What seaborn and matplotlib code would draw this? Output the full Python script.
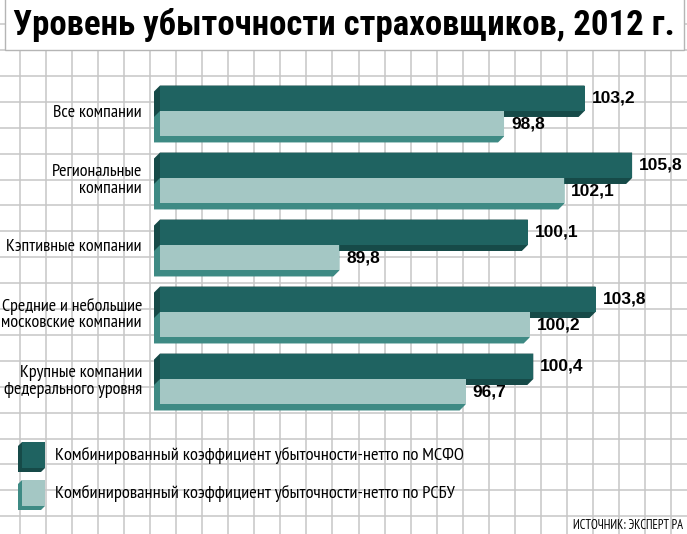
import numpy as np
import pandas as pd
import matplotlib.pyplot as plt
import seaborn as sns
from matplotlib.patches import Polygon, Rectangle

# данные
categories = ["Все компании", "Региональные\nкомпании", "Кэптивные компании",
              "Средние и небольшие\nмосковские компании", "Крупные компании\nфедерального уровня"]
msfo = [103.2, 105.8, 100.1, 103.8, 100.4]
rsbu = [98.8, 102.1, 89.8, 100.2, 96.7]
series = ["Комбинированный коэффициент убыточности-нетто по МСФО",
          "Комбинированный коэффициент убыточности-нетто по РСБУ"]
title = "Уровень убыточности страховщиков, 2012 г."
source = "ИСТОЧНИК: ЭКСПЕРТ РА"

face_colors = ["#1f6361", "#a4c7c4"]
side_colors = ["#164a48", "#3e8a84"]
narrow = ["PT Sans Narrow", "DejaVu Sans"]
heavy = ["Roboto Condensed", "DejaVu Sans"]

df = pd.DataFrame({
    "category": categories * 2,
    "value": msfo + rsbu,
    "series": [series[0]] * len(categories) + [series[1]] * len(categories),
})

W, H = 687, 534
fig = plt.figure(figsize=(W / 100, H / 100), dpi=100)

# фон: сетка в пикселях
bg = fig.add_axes([0, 0, 1, 1], zorder=0)
bg.set_xlim(0, W)
bg.set_ylim(H, 0)
bg.axis("off")
for x in 20 + 26.04 * np.arange(-1, 27):
    bg.axvline(x, color="#c6c6c6", lw=1.1)
for y in 50 + 25.9 * np.arange(-2, 20):
    bg.axhline(y, color="#c6c6c6", lw=1.1)
bg.add_patch(Rectangle((5, -3), 679, 53, facecolor="white", edgecolor="#b5b5b5", lw=1.0, zorder=3))
bg.text(344, 25, title, ha="center", va="center", fontsize=25, fontweight="black",
        family=heavy, zorder=4)

# основной график
ax = fig.add_axes([160 / W, 1 - 440 / H, (W - 160) / W, 390 / H], zorder=1)
ax.set_facecolor("none")
sns.barplot(data=df, y="category", x="value", hue="series", orient="h",
            palette=face_colors, width=0.76, saturation=1, legend=False, ax=ax)
ax.set_xlim(80, 108.8)
ax.set_ylim(4.91, -0.91)
for s in ax.spines.values():
    s.set_visible(False)
ax.set_xlabel("")
ax.set_ylabel("")
ax.set_xticks([])
ax.tick_params(axis="y", length=0, pad=13)
for lbl in ax.get_yticklabels():
    lbl.set_family(narrow)
    lbl.set_fontsize(13)
    lbl.set_linespacing(1.05)

# объём: смещение вниз-влево на 6 px
fig.canvas.draw()
inv = ax.transData.inverted()
p0 = inv.transform((0, 0))
p1 = inv.transform((6, -6))
dx, dy = p1[0] - p0[0], p1[1] - p0[1]
xmin = ax.get_xlim()[0]

for k, cont in enumerate(ax.containers):
    for bar in cont:
        x0 = max(bar.get_x(), xmin)
        x1 = bar.get_x() + bar.get_width()
        y0 = bar.get_y()
        y1 = y0 + bar.get_height()
        hexa = [(x0, y0), (x1, y0), (x1, y1), (x1 - dx, y1 + dy), (x0 - dx, y1 + dy), (x0 - dx, y0 + dy)]
        ax.add_patch(Polygon(hexa, closed=True, facecolor=side_colors[k], edgecolor="none",
                             zorder=1 + 2 * k, clip_on=False))
        bar.set_zorder(2 + 2 * k)
        bar.set_edgecolor("none")
    vals = msfo if k == 0 else rsbu
    ax.bar_label(cont, labels=[f"{v:.1f}".replace(".", ",") for v in vals], padding=5,
                 fontsize=12.5, fontweight="bold", family=["Liberation Sans", "DejaVu Sans"], zorder=6)

# легенда
for k, (ytop, txt_y) in enumerate([(442, 455), (480, 493)]):
    fx0, fx1, fy0, fy1 = 22, 45, ytop, ytop + 26
    d = 4
    bg.add_patch(Polygon([(fx0, fy0), (fx1, fy0), (fx1, fy1), (fx1 - d, fy1 + d), (fx0 - d, fy1 + d),
                          (fx0 - d, fy0 + d)], closed=True, facecolor=side_colors[k],
                         edgecolor="none", zorder=3))
    bg.add_patch(Rectangle((fx0, fy0), fx1 - fx0, fy1 - fy0, facecolor=face_colors[k],
                           edgecolor="none", zorder=4))
    bg.text(55, txt_y, series[k], ha="left", va="center", fontsize=13.2, family=narrow, zorder=4)

bg.text(683, 529, source, ha="right", va="baseline", fontsize=9, family=narrow, zorder=4)

plt.savefig("out.png", dpi=100)
